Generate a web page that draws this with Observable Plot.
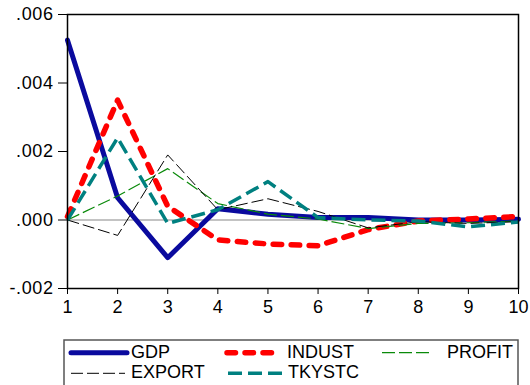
<!DOCTYPE html>
<html>
<head>
<meta charset="utf-8">
<script src="https://cdn.jsdelivr.net/npm/d3@7"></script>
<script src="https://cdn.jsdelivr.net/npm/@observablehq/plot@0.6"></script>
<style>
  body { margin: 0; background: #fff; }
  #chart svg { display: block; }
</style>
</head>
<body>
<div id="chart"></div>
<script>
const periods = [1, 2, 3, 4, 5, 6, 7, 8, 9, 10];
const gdp    = [0.00525, 0.00065, -0.0011, 0.00033, 0.00017, 0.00007, 0.00007, 0.0, 0.0, 0.00002];
const indust = [0.0001, 0.0035, 0.0004, -0.00058, -0.0007, -0.00075, -0.00028, -0.00003, 0.00003, 0.0001];
const profit = [0.0, 0.0007, 0.0015, 0.00048, 0.00017, 0.00003, -0.00025, -0.0001, -0.00008, -0.00003];
const exportS = [0.0, -0.00045, 0.0019, 0.0003, 0.00062, 0.00025, -0.00023, -0.00005, -0.0001, -0.00005];
const tkystc = [0.0, 0.0024, -0.0001, 0.0003, 0.00112, 0.00007, 0.0, -0.00003, -0.0002, -0.00006];
const yTicks = [-0.002, 0, 0.002, 0.004, 0.006];
const yTickLabels = ["-.002", ".000", ".002", ".004", ".006"];

const series = [
  {name: "GDP", values: gdp, stroke: "#0a0a9e", width: 5, dash: null, cap: "round"},
  {name: "INDUST", values: indust, stroke: "#ff0000", width: 5.5, dash: "8.5,9.5", cap: "round"},
  {name: "PROFIT", values: profit, stroke: "#0a8a0a", width: 1.2, dash: "13,4", cap: "butt"},
  {name: "EXPORT", values: exportS, stroke: "#000000", width: 1, dash: "12,4", cap: "butt"},
  {name: "TKYSTC", values: tkystc, stroke: "#008080", width: 3.5, dash: "14,6", cap: "butt"}
];

const yFmt = d => yTickLabels[yTicks.findIndex(t => Math.abs(t - d) < 1e-9)];
const FONT = "'Liberation Sans', Arial, sans-serif";

const marks = [
  Plot.ruleY([0], {stroke: "#888", strokeWidth: 1.2}),
  ...series.map(s => Plot.line(periods.map((p, i) => ({x: p, y: s.values[i]})), {
    x: "x", y: "y", stroke: s.stroke, strokeWidth: s.width,
    strokeDasharray: s.dash ?? undefined, strokeLinecap: s.cap, strokeLinejoin: "round"
  })),
  Plot.frame({stroke: "#000", strokeWidth: 1.5}),
  Plot.axisY({ticks: yTicks, tickFormat: yFmt, tickSize: 9, tickPadding: 5,
    fontSize: 18, fontFamily: FONT, stroke: "#000"}),
  Plot.axisX({ticks: periods, tickFormat: d => String(d), tickSize: 6, tickPadding: 6,
    fontSize: 18, fontFamily: FONT, stroke: "#000"})
];

const plot = Plot.plot({
  width: 530,
  height: 330,
  marginLeft: 67,
  marginRight: 12,
  marginTop: 14,
  marginBottom: 42,
  style: {background: "#fff", color: "#000", overflow: "visible"},
  x: {domain: [1, 10], label: null},
  y: {domain: [-0.002, 0.006], label: null},
  marks
});
d3.select(plot).selectAll("g[aria-label='y-axis tick label'] text").attr("letter-spacing", 0.6);
document.getElementById("chart").appendChild(plot);

// Legend below the plot
const legendLayout = [
  {x0: 71, x1: 127, tx: 131, row: 0},
  {x0: 227, x1: 275, tx: 287, row: 0},
  {x0: 382, x1: 432, tx: 447, row: 0},
  {x0: 71, x1: 125, tx: 131, row: 1},
  {x0: 228, x1: 283, tx: 288, row: 1}
];
const rowLineY = [22.7, 43.3];
const rowTextY = [28.3, 47.5];
const leg = d3.create("svg").attr("width", 530).attr("height", 55)
  .style("display", "block").style("font-family", FONT);
leg.append("rect").attr("x", 64).attr("y", 10).attr("width", 454).attr("height", 60)
  .attr("fill", "none").attr("stroke", "#555").attr("stroke-width", 1.5);
series.forEach((s, i) => {
  const L = legendLayout[i];
  leg.append("line").attr("x1", L.x0).attr("x2", L.x1)
    .attr("y1", rowLineY[L.row]).attr("y2", rowLineY[L.row])
    .attr("stroke", s.stroke).attr("stroke-width", s.width)
    .attr("stroke-dasharray", s.dash).attr("stroke-linecap", s.cap);
  leg.append("text").attr("x", L.tx).attr("y", rowTextY[L.row]).attr("font-size", 18)
    .attr("fill", "#000").text(s.name);
});
document.getElementById("chart").appendChild(leg.node());
</script>
</body>
</html>
